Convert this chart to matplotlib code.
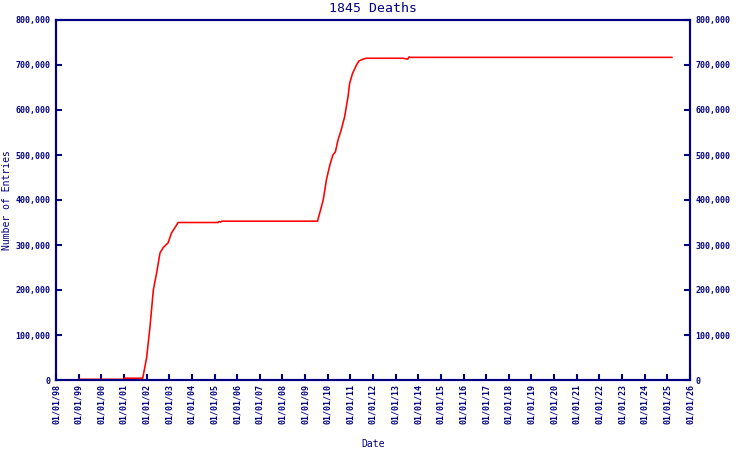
import matplotlib
matplotlib.use("Agg")
import matplotlib.pyplot as plt
import matplotlib.dates as mdates
from matplotlib.ticker import FuncFormatter, MultipleLocator
import pandas as pd

title = "1845 Deaths"
xlabel = "Date"
ylabel = "Number of Entries"

dates = [
    "1999-01-01", "2001-01-01", "2001-01-05", "2001-11-01", "2001-11-15",
    "2002-01-01", "2002-02-25", "2002-04-20", "2002-06-15", "2002-08-05",
    "2002-09-25", "2002-12-15", "2003-02-05", "2003-05-25", "2005-03-01",
    "2005-03-15", "2005-04-10", "2005-05-01", "2009-07-20", "2009-08-25",
    "2009-10-20", "2009-11-15", "2009-12-10", "2010-02-05", "2010-03-25",
    "2010-05-05", "2010-06-15", "2010-08-05", "2010-10-01", "2010-11-25",
    "2010-12-20", "2011-02-05", "2011-04-10", "2011-05-20", "2011-07-25",
    "2011-09-15", "2013-05-01", "2013-07-15", "2013-08-05", "2013-08-20",
    "2025-03-15",
]
entries = [
    1500, 1500, 4000, 4000, 15000,
    49000, 118000, 200000, 240000, 282000,
    294000, 305000, 326000, 350000, 350000,
    352000, 351000, 353000, 353000, 371000,
    400000, 422000, 444000, 478000, 500000,
    507000, 533000, 555000, 585000, 630000,
    659000, 681000, 700000, 709000, 713000,
    715000, 715000, 713000, 718000, 717000,
    717000,
]

navy = "#000080"
font = "DejaVu Sans Mono"

fig = plt.figure(figsize=(7.5, 4.5), dpi=100)
ax = fig.add_axes([56/750, 70/450, 634/750, 360/450])

x = pd.to_datetime(dates)
ax.plot(x, entries, color="#ff0000", linewidth=1.15)

ax.set_xlim(pd.Timestamp("1998-01-01"), pd.Timestamp("2026-01-01"))
ax.set_ylim(0, 800000)
ax.yaxis.set_major_locator(MultipleLocator(100000))
ax.xaxis.set_major_locator(mdates.YearLocator(1))
ax.xaxis.set_major_formatter(mdates.DateFormatter("%m/%d/%y"))
ax.yaxis.set_major_formatter(FuncFormatter(lambda v, p: f"{int(v):,}"))

for s in ax.spines.values():
    s.set_color(navy)
    s.set_linewidth(1.5)

ax.tick_params(axis="both", direction="in", length=4, width=1.5, color=navy,
               labelcolor=navy, labelsize=6)
ax.tick_params(axis="x", pad=3, labelrotation=90)
ax.tick_params(axis="y", pad=4)
for lab in ax.get_xticklabels() + ax.get_yticklabels():
    lab.set_fontfamily(font)
    lab.set_fontweight("bold")

ax2 = ax.twinx()
ax2.set_ylim(0, 800000)
ax2.yaxis.set_major_locator(MultipleLocator(100000))
ax2.yaxis.set_major_formatter(FuncFormatter(lambda v, p: f"{int(v):,}"))
ax2.tick_params(axis="y", direction="in", length=4, width=1.5, color=navy,
                labelcolor=navy, labelsize=6, pad=4)
for lab in ax2.get_yticklabels():
    lab.set_fontfamily(font)
    lab.set_fontweight("bold")
for s in ax2.spines.values():
    s.set_color(navy)
    s.set_linewidth(1.5)

ax.set_title(title, color=navy, fontsize=9.5, fontfamily=font, pad=6)
ax.set_xlabel(xlabel, color=navy, fontsize=7, fontfamily=font)
ax.xaxis.set_label_coords(0.5, -0.178)
ax.xaxis.label.set_va("center")
ax.set_ylabel(ylabel, color=navy, fontsize=7, fontfamily=font)
ax.yaxis.set_label_coords(-0.078, 0.5)
ax.yaxis.label.set_va("center")

fig.savefig("out.png", dpi=100)
